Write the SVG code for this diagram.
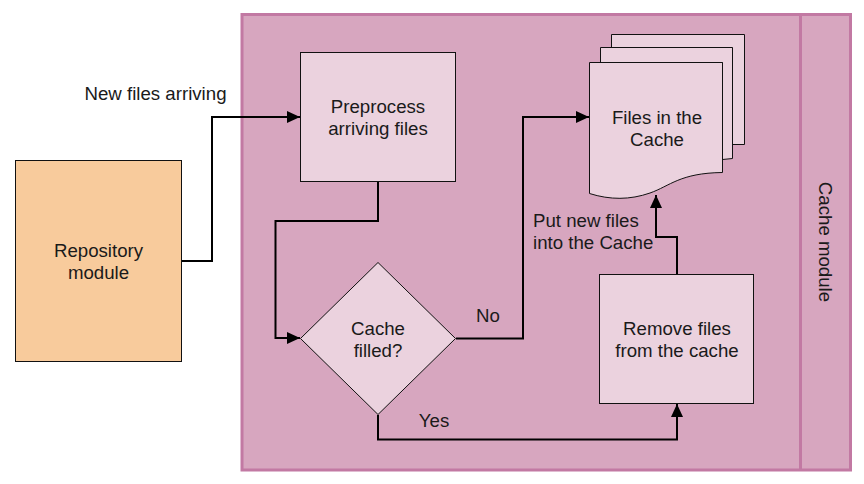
<svg xmlns="http://www.w3.org/2000/svg" width="864" height="484" viewBox="0 0 864 484">
<style>
text{font-family:"Liberation Sans",Arial,sans-serif;font-size:18.67px;fill:#1a1a1a;text-anchor:middle}
.n{fill:#ebd2de;stroke:#111;stroke-width:1}
.c{fill:none;stroke:#000;stroke-width:2}
</style>
<defs><marker id="a" markerUnits="userSpaceOnUse" markerWidth="13" markerHeight="12" refX="13" refY="6" orient="auto"><path d="M0 0L13 6L0 12Z" fill="#000"/></marker></defs>
<rect width="864" height="484" fill="#fff"/>
<g id="cache-module">
<rect x="242" y="14.500" width="608.500" height="455.500" fill="#d7a6bf" stroke="#c279a3" stroke-width="3"/>
<line x1="800.500" y1="14" x2="800.500" y2="470" stroke="#c279a3" stroke-width="3"/>
<text transform="translate(819 242) rotate(90)">Cache module</text>
</g>
<g id="repository"><rect x="15.500" y="160.500" width="166" height="201" fill="#f8cb9c" stroke="#111"/><text x="98.500" y="257">Repository</text><text x="98.500" y="279">module</text></g>
<g id="preprocess"><rect class="n" x="300.500" y="52.500" width="155" height="129"/><text x="378" y="113">Preprocess</text><text x="378" y="135">arriving files</text></g>
<g id="decision"><path class="n" d="M378 262.500L455.500 338.500L378 414.500L300.500 338.500Z"/><text x="378" y="335">Cache</text><text x="378" y="357">filled?</text></g>
<g id="remove"><rect class="n" x="599.500" y="274.500" width="154" height="129"/><text x="677" y="335">Remove files</text><text x="677" y="357">from the cache</text></g>
<g id="files">
<path class="n" d="M611.500 34.500H744.500V144.500H732.500V48H611.500Z"/>
<path class="n" d="M600.500 47.500H732.500V158.500L722.500 159.500V62.500H600.500Z"/>
<path class="n" d="M589.500 62.500H722.500V172.500C680 173 670 186 650 193C630 200 610 200 589.500 193.500Z"/>
<text x="657" y="124">Files in the</text><text x="657" y="146">Cache</text>
</g>
<g id="connectors">
<path class="c" marker-end="url(#a)" d="M182 261H212V117H300"/>
<path class="c" marker-end="url(#a)" d="M378 182V221H275.500V338H300"/>
<path class="c" marker-end="url(#a)" d="M456 338.500H523V117H589"/>
<path class="c" marker-end="url(#a)" d="M378 415V439.500H677V404"/>
<path class="c" marker-end="url(#a)" d="M677 274V237H656V195"/>
</g>
<g id="labels">
<text x="155.500" y="100">New files arriving</text>
<text x="488" y="322">No</text>
<text x="434" y="427">Yes</text>
<text x="533" y="227" style="text-anchor:start">Put new files</text>
<text x="533" y="249" style="text-anchor:start">into the Cache</text>
</g>
</svg>
